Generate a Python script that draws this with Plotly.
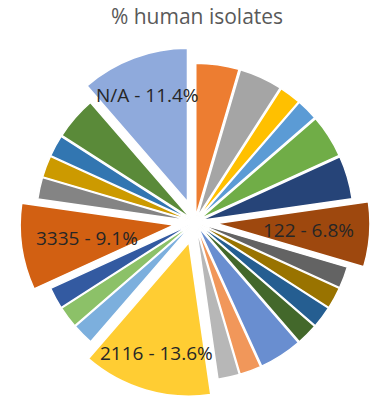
import math
import plotly.graph_objects as go

# Isolate counts per sequence type, clockwise from 12 o'clock
types = ["ST-01", "ST-02", "ST-03", "ST-04", "ST-05", "ST-06", "122",
         "ST-08", "ST-09", "ST-10", "ST-11", "ST-12", "ST-13", "ST-14",
         "2116", "ST-16", "ST-17", "ST-18", "3335", "ST-20", "ST-21",
         "ST-22", "ST-23", "N/A"]
counts = [2, 2, 1, 1, 2, 2, 3, 1, 1, 1, 1, 2, 1, 1, 6, 1, 1, 1, 4, 1, 1, 1, 2, 5]
labelled = ["122", "2116", "3335", "N/A"]

colors = ["#ED7D31", "#A5A5A5", "#FFC000", "#5B9BD5", "#70AD47", "#264478",
          "#9E480E", "#636363", "#997300", "#255E91", "#43682B", "#698ED0",
          "#F1975A", "#B7B7B7", "#FFCD33", "#7CAFDD", "#8CC168", "#335AA1",
          "#D26012", "#848484", "#CC9A00", "#3276B1", "#5A8A39", "#8FAADC"]

W, H = 370, 397
M_TOP = 47
BIG_PULL, SMALL_PULL = 0.14, 0.035
pulls = [BIG_PULL if t in labelled else SMALL_PULL for t in types]

# horizontal placement of the pie (paper fraction)
dom_x = [0.054, 1.0]
dom_y = [0.0, 1.0]

fig = go.Figure(go.Pie(
    labels=types,
    values=counts,
    sort=False,
    direction="clockwise",
    rotation=0,
    pull=pulls,
    marker=dict(colors=colors, line=dict(color="white", width=1.5)),
    textinfo="none",
    hoverinfo="label+percent",
    domain=dict(x=dom_x, y=dom_y),
    showlegend=False,
))

# pie geometry as plotly lays it out, used to anchor the data labels
pw, ph = W, H - M_TOP
r = min(pw * (dom_x[1] - dom_x[0]), ph * (dom_y[1] - dom_y[0])) / (2 + 2 * max(pulls))
cx = pw * (dom_x[0] + dom_x[1]) / 2
cy = M_TOP + ph * (2 - dom_y[0] - dom_y[1]) / 2

depth = {"N/A": 0.74, "122": 0.60, "3335": 0.57, "2116": 0.75}
total = sum(counts)
start = 0
for t, c, p in zip(types, counts, pulls):
    mid = math.radians(360.0 * (start + c / 2) / total)
    start += c
    if t not in labelled:
        continue
    d = (p + depth[t]) * r
    xp = cx + d * math.sin(mid)
    yp = cy - d * math.cos(mid)
    fig.add_annotation(
        x=xp / pw, y=1 - (yp - M_TOP) / ph, xref="paper", yref="paper",
        text=f"{t} - {100 * c / total:.1f}%", showarrow=False,
        font=dict(family="Open Sans", size=19, color="#262626"),
        xanchor="center", yanchor="middle",
    )

fig.update_layout(
    width=W, height=H,
    margin=dict(l=0, r=0, t=M_TOP, b=0),
    paper_bgcolor="white",
    title=dict(text="% human isolates", x=197 / W, xanchor="center",
               y=1 - 17 / H, yanchor="middle",
               font=dict(family="Open Sans", size=21, color="#595959")),
)

fig.write_html("out.html")
